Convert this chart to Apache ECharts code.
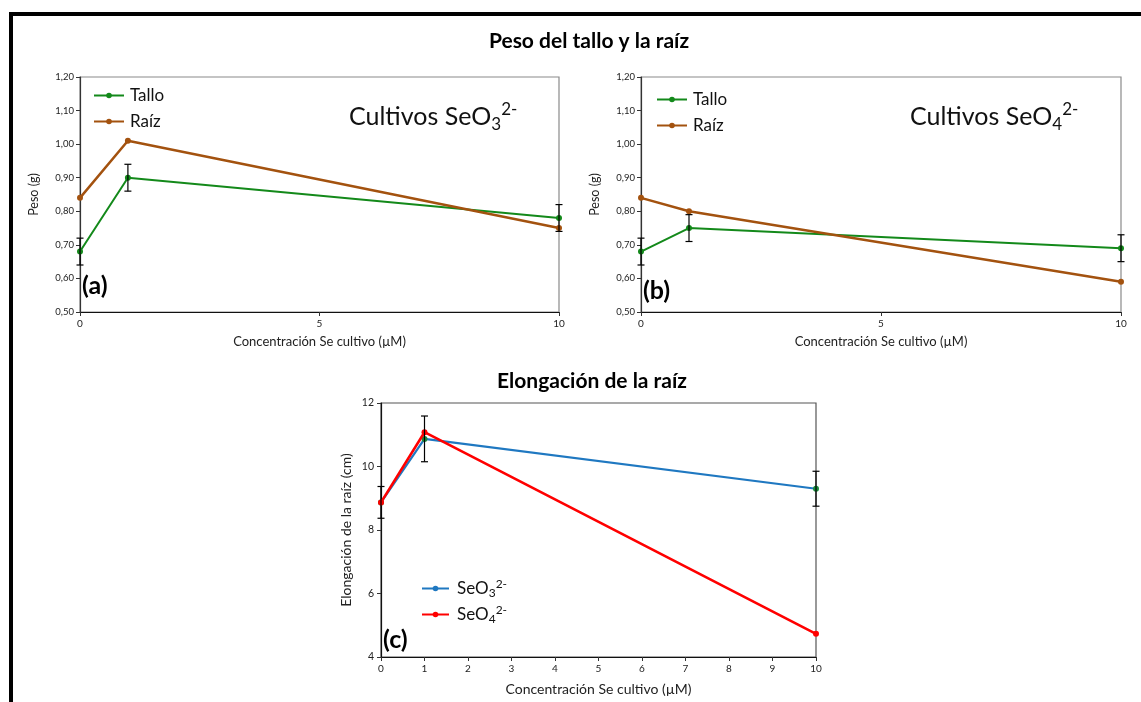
<!DOCTYPE html>
<html>
<head>
<meta charset="utf-8">
<script src="https://cdn.jsdelivr.net/npm/echarts@6/dist/echarts.min.js"></script>
<style>
  html, body { margin: 0; padding: 0; background: #fff; }
  #chart { width: 1141px; height: 702px; }
</style>
</head>
<body>
<div id="chart"></div>
<script>
// Se concentration in the culture (µM)
const concentraciones = [0, 1, 10];

// (a) selenite cultures: stem and root weight (g)
const talloSeO3 = [0.68, 0.90, 0.78];
const talloSeO3Err = [0.04, 0.04, 0.04];
const raizSeO3 = [0.84, 1.01, 0.75];

// (b) selenate cultures: stem and root weight (g)
const talloSeO4 = [0.68, 0.75, 0.69];
const talloSeO4Err = [0.04, 0.04, 0.04];
const raizSeO4 = [0.84, 0.80, 0.59];

// (c) root elongation (cm)
const elongSeO3 = [8.87, 10.87, 9.30];
const elongSeO3Err = [0.50, 0.72, 0.55];
const elongSeO4 = [8.87, 11.08, 4.73];

const FONT = 'Lato, "Open Sans", sans-serif';
const GREEN = '#13891a';
const BROWN = '#a3520f';
const BLUE = '#1f78c1';
const RED = '#ff0000';

const pairs = (xs, ys) => xs.map((x, i) => [x, ys[i]]);
const errData = (xs, ys, es) => xs.map((x, i) => [x, ys[i] - es[i], ys[i] + es[i]]);

function renderErr(params, api) {
  const x = api.value(0);
  const top = api.coord([x, api.value(2)]);
  const bot = api.coord([x, api.value(1)]);
  const w = 3.5;
  const st = { stroke: '#000', lineWidth: 1.2 };
  return {
    type: 'group',
    children: [
      { type: 'line', shape: { x1: top[0], y1: top[1], x2: bot[0], y2: bot[1] }, style: st },
      { type: 'line', shape: { x1: top[0] - w, y1: top[1], x2: top[0] + w, y2: top[1] }, style: st },
      { type: 'line', shape: { x1: bot[0] - w, y1: bot[1], x2: bot[0] + w, y2: bot[1] }, style: st }
    ]
  };
}

const comma2 = v => v.toFixed(2).replace('.', ',');

function weightYAxis(gridIndex) {
  return {
    type: 'value', gridIndex, min: 0.5, max: 1.2, interval: 0.1,
    name: 'Peso (g)', nameLocation: 'middle', nameGap: 40,
    nameTextStyle: { fontFamily: FONT, fontSize: 12.5, color: '#222' },
    axisLine: { show: true, lineStyle: { color: '#333', width: 1.2 } },
    axisTick: { show: true, length: 4, lineStyle: { color: '#333' } },
    axisLabel: { formatter: comma2, fontFamily: FONT, fontSize: 9.5, color: '#222', margin: 6 },
    splitLine: { show: false }
  };
}

function concXAxis(gridIndex, interval, gap, nameSize) {
  return {
    type: 'value', gridIndex, min: 0, max: 10, interval,
    name: 'Concentración Se cultivo (µM)', nameLocation: 'middle', nameGap: gap,
    nameTextStyle: { fontFamily: FONT, fontSize: nameSize, color: '#222' },
    axisLine: { show: true, onZero: false, lineStyle: { color: '#111', width: 1.2 } },
    axisTick: { show: true, length: 4, lineStyle: { color: '#333' } },
    axisLabel: { fontFamily: FONT, fontSize: 10, color: '#222', margin: 7 },
    splitLine: { show: false }
  };
}

function lineSeries(name, color, xi, data, width) {
  return {
    type: 'line', name, xAxisIndex: xi, yAxisIndex: xi,
    data, symbol: 'circle', symbolSize: 6, showSymbol: true,
    lineStyle: { color, width }, itemStyle: { color }, z: 3,
    animation: false
  };
}

function errSeries(xi, data) {
  return {
    type: 'custom', xAxisIndex: xi, yAxisIndex: xi,
    renderItem: renderErr, data, encode: { x: 0, y: [1, 2] }, z: 5,
    animation: false, silent: true
  };
}

function weightLegend(left, top) {
  return {
    orient: 'vertical', left, top, padding: 0, itemWidth: 30, itemHeight: 7, itemGap: 9,
    data: ['Tallo', 'Raíz'], selectedMode: false,
    textStyle: { fontFamily: FONT, fontSize: 17, color: '#111', padding: [0, 0, 0, 1] }
  };
}

function caption(left, sub) {
  return {
    type: 'text', left, top: 101, silent: true,
    style: { text: 'Cultivos SeO{sub|' + sub + '}{sup|2-}', fontFamily: FONT, fontSize: 25, fill: '#111',
      rich: { sub: { fontFamily: FONT, fontSize: 17, padding: [16, 0, 0, 0] },
              sup: { fontFamily: FONT, fontSize: 17, padding: [0, 0, 14, 0] } } }
  };
}

function panelTag(left, top, text) {
  return { type: 'text', left, top, silent: true,
    style: { text, fontFamily: FONT, fontWeight: 'bold', fontSize: 25, fill: '#000' } };
}

const chart = echarts.init(document.getElementById('chart'), null, { renderer: 'canvas' });

chart.setOption({
  backgroundColor: '#fff',
  animation: false,
  title: [
    { text: 'Peso del tallo y la raíz', left: 584, top: 26, textAlign: 'center',
      textStyle: { fontFamily: FONT, fontWeight: 'bold', fontSize: 21, color: '#000' } },
    { text: 'Elongación de la raíz', left: 587, top: 366, textAlign: 'center',
      textStyle: { fontFamily: FONT, fontWeight: 'bold', fontSize: 21, color: '#000' } }
  ],
  grid: [
    { left: 80, top: 77, width: 479, height: 235, show: true, borderColor: '#8a8a8a', borderWidth: 1.2, backgroundColor: 'transparent' },
    { left: 641, top: 77, width: 480, height: 235, show: true, borderColor: '#8a8a8a', borderWidth: 1.2, backgroundColor: 'transparent' },
    { left: 381, top: 403, width: 435, height: 254, show: true, borderColor: '#555', borderWidth: 1.2, backgroundColor: 'transparent' }
  ],
  xAxis: [
    concXAxis(0, 5, 23, 13),
    concXAxis(1, 5, 23, 13),
    concXAxis(2, 1, 25, 14)
  ],
  yAxis: [
    weightYAxis(0),
    weightYAxis(1),
    {
      type: 'value', gridIndex: 2, min: 4, max: 12, interval: 2,
      name: 'Elongación de la raíz (cm)', nameLocation: 'middle', nameGap: 28,
      nameTextStyle: { fontFamily: FONT, fontSize: 14, color: '#222' },
      axisLine: { show: true, lineStyle: { color: '#111', width: 1.2 } },
      axisTick: { show: true, length: 4, lineStyle: { color: '#333' } },
      axisLabel: { fontFamily: FONT, fontSize: 10.5, color: '#222', margin: 7 },
      splitLine: { show: false }
    }
  ],
  legend: [
    weightLegend(93, 87),
    weightLegend(656, 91),
    { orient: 'vertical', left: 421, top: 578, padding: 0, itemWidth: 27, itemHeight: 7, itemGap: 5,
      data: ['SeO3', 'SeO4'], selectedMode: false,
      formatter: n => n === 'SeO3' ? 'SeO{sub|3}{sup|2-}' : 'SeO{sub|4}{sup|2-}',
      textStyle: { fontFamily: FONT, fontSize: 17, color: '#111', padding: [0, 0, 0, 3],
        rich: { sub: { fontFamily: FONT, fontSize: 12, padding: [9, 0, 0, 0] },
                sup: { fontFamily: FONT, fontSize: 12, padding: [0, 0, 9, 0] } } } }
  ],
  graphic: [
    // figure frame
    { type: 'rect', shape: { x: 9, y: 12, width: 1132, height: 4 }, style: { fill: '#000' }, silent: true },
    { type: 'rect', shape: { x: 9, y: 12, width: 4, height: 690 }, style: { fill: '#000' }, silent: true },
    // panel captions
    caption(349, '3'),
    caption(910, '4'),
    panelTag(82, 273, '(a)'),
    panelTag(643, 278, '(b)'),
    panelTag(383, 627, '(c)')
  ],
  series: [
    lineSeries('Tallo', GREEN, 0, pairs(concentraciones, talloSeO3), 2),
    lineSeries('Raíz', BROWN, 0, pairs(concentraciones, raizSeO3), 2.5),
    errSeries(0, errData(concentraciones, talloSeO3, talloSeO3Err)),

    lineSeries('Tallo', GREEN, 1, pairs(concentraciones, talloSeO4), 2),
    lineSeries('Raíz', BROWN, 1, pairs(concentraciones, raizSeO4), 2.5),
    errSeries(1, errData(concentraciones, talloSeO4, talloSeO4Err)),

    Object.assign(lineSeries('SeO3', BLUE, 2,
      pairs(concentraciones, elongSeO3).map(p => ({ value: p, itemStyle: { color: '#1a8a3a' } })), 2.2), { z: 3 }),
    Object.assign(lineSeries('SeO4', RED, 2, pairs(concentraciones, elongSeO4), 2.6), { z: 4 }),
    errSeries(2, errData(concentraciones, elongSeO3, elongSeO3Err))
  ]
});
</script>
</body>
</html>
